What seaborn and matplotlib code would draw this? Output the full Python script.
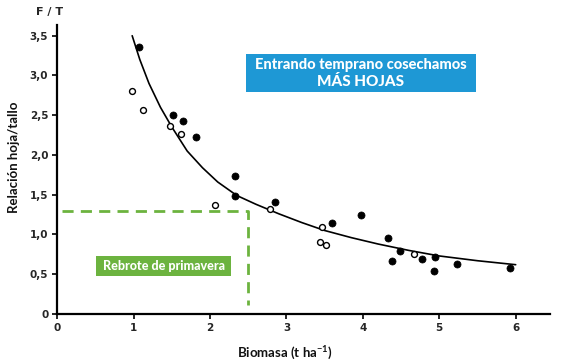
import matplotlib
matplotlib.use("Agg")
import matplotlib.pyplot as plt
import seaborn as sns
import pandas as pd
from matplotlib.patches import Rectangle

# ---- data ----
filled_x = [1.07, 1.52, 1.65, 1.82, 2.32, 2.33, 2.85, 3.59, 3.98, 4.33, 4.38, 4.49, 4.78, 4.93, 4.95, 5.23, 5.93]
filled_y = [3.36, 2.50, 2.43, 2.23, 1.74, 1.48, 1.41, 1.14, 1.24, 0.96, 0.67, 0.79, 0.69, 0.54, 0.72, 0.63, 0.58]

open_x = [0.98, 1.12, 1.48, 1.62, 2.06, 2.78, 3.46, 3.44, 3.52, 4.67]
open_y = [2.81, 2.57, 2.36, 2.26, 1.37, 1.32, 1.09, 0.91, 0.87, 0.76]

curve_x = [0.98, 1.08, 1.20, 1.35, 1.50, 1.70, 1.90, 2.10, 2.35, 2.60, 2.90, 3.20, 3.50, 3.85, 4.20, 4.60, 5.00, 5.50, 6.00]
curve_y = [3.50, 3.20, 2.90, 2.60, 2.35, 2.05, 1.84, 1.66, 1.49, 1.38, 1.26, 1.15, 1.05, 0.96, 0.88, 0.80, 0.73, 0.67, 0.62]

ref_x = [0.06, 2.49, 2.49]
ref_y = [1.30, 1.30, 0.11]

x_ticks = [0, 1, 2, 3, 4, 5, 6]
x_tick_labels = ["0", "1", "2", "3", "4", "5", "6"]
y_ticks = [0, 0.5, 1.0, 1.5, 2.0, 2.5, 3.0, 3.5]
y_tick_labels = ["0", "0,5", "1,0", "1,5", "2,0", "2,5", "3,0", "3,5"]

blue_line1 = "Entrando temprano cosechamos"
blue_line2 = "MÁS HOJAS"
green_text = "Rebrote de primavera"
x_label = "Biomasa (t ha$^{\\mathregular{-1}}$)"
y_label = "Relación hoja/tallo"
unit_label = "F / T"

# ---- styling ----
sns.set_theme(style="white")
plt.rcParams["font.family"] = ["Lato", "DejaVu Sans"]

fig = plt.figure(figsize=(5.63, 3.64), dpi=100)
ax = fig.add_axes([0.1018, 0.1374, 0.8752, 0.795])

green = "#6cb33f"
blue = "#1e98d5"

df_f = pd.DataFrame({"x": filled_x, "y": filled_y})
df_o = pd.DataFrame({"x": open_x, "y": open_y})
df_c = pd.DataFrame({"x": curve_x, "y": curve_y})
df_r = pd.DataFrame({"x": ref_x, "y": ref_y})

sns.lineplot(data=df_c, x="x", y="y", ax=ax, color="black", linewidth=1.2,
             sort=False, estimator=None)
sns.lineplot(data=df_r, x="x", y="y", ax=ax, color=green, linewidth=2.0,
             sort=False, estimator=None, linestyle=(0, (4, 2.6)))
sns.scatterplot(data=df_f, x="x", y="y", ax=ax, color="black", s=26,
                edgecolor="black", linewidth=0.5, zorder=5)
sns.scatterplot(data=df_o, x="x", y="y", ax=ax, facecolor="white", s=18,
                edgecolor="black", linewidth=1.0, zorder=5)

ax.set_xlim(0, 6.45)
ax.set_ylim(0, 3.64)
ax.set_xticks(x_ticks)
ax.set_xticklabels(x_tick_labels)
ax.set_yticks(y_ticks)
ax.set_yticklabels(y_tick_labels)
for lab in ax.get_xticklabels() + ax.get_yticklabels():
    lab.set_fontweight("bold")
    lab.set_fontsize(7.5)
    lab.set_family(["DejaVu Sans"])
ax.tick_params(axis="both", direction="out", length=3.5, width=1.2, color="black",
               pad=3, bottom=True, left=True)

for s in ["top", "right"]:
    ax.spines[s].set_visible(False)
for s in ["left", "bottom"]:
    ax.spines[s].set_color("black")
    ax.spines[s].set_linewidth(1.6)

ax.set_xlabel(x_label, fontsize=9.5, fontweight="bold", color="#111111")
ax.set_ylabel(y_label, fontsize=9.5, fontweight="bold", color="#111111")
ax.xaxis.set_label_coords(0.462, -0.107)
ax.yaxis.set_label_coords(-0.076, 0.543)

ax.text(-0.015, 1.044, unit_label, transform=ax.transAxes, ha="center", va="center",
        fontsize=8, fontweight="bold", family=["DejaVu Sans"])

# annotation boxes
ax.add_patch(Rectangle((2.47, 2.79), 3.01, 0.48, facecolor=blue, edgecolor="none", zorder=3))
ax.text(3.975, 3.13, blue_line1, ha="center", va="center", color="white",
        fontsize=10.5, fontweight=900, zorder=4)
ax.text(3.975, 2.92, blue_line2, ha="center", va="center", color="white",
        fontsize=11, fontweight=900, zorder=4)

ax.add_patch(Rectangle((0.51, 0.48), 1.76, 0.25, facecolor=green, edgecolor="none", zorder=3))
ax.text(1.39, 0.605, green_text, ha="center", va="center", color="white",
        fontsize=9, fontweight=900, zorder=4)

fig.savefig("out.png", dpi=100)
